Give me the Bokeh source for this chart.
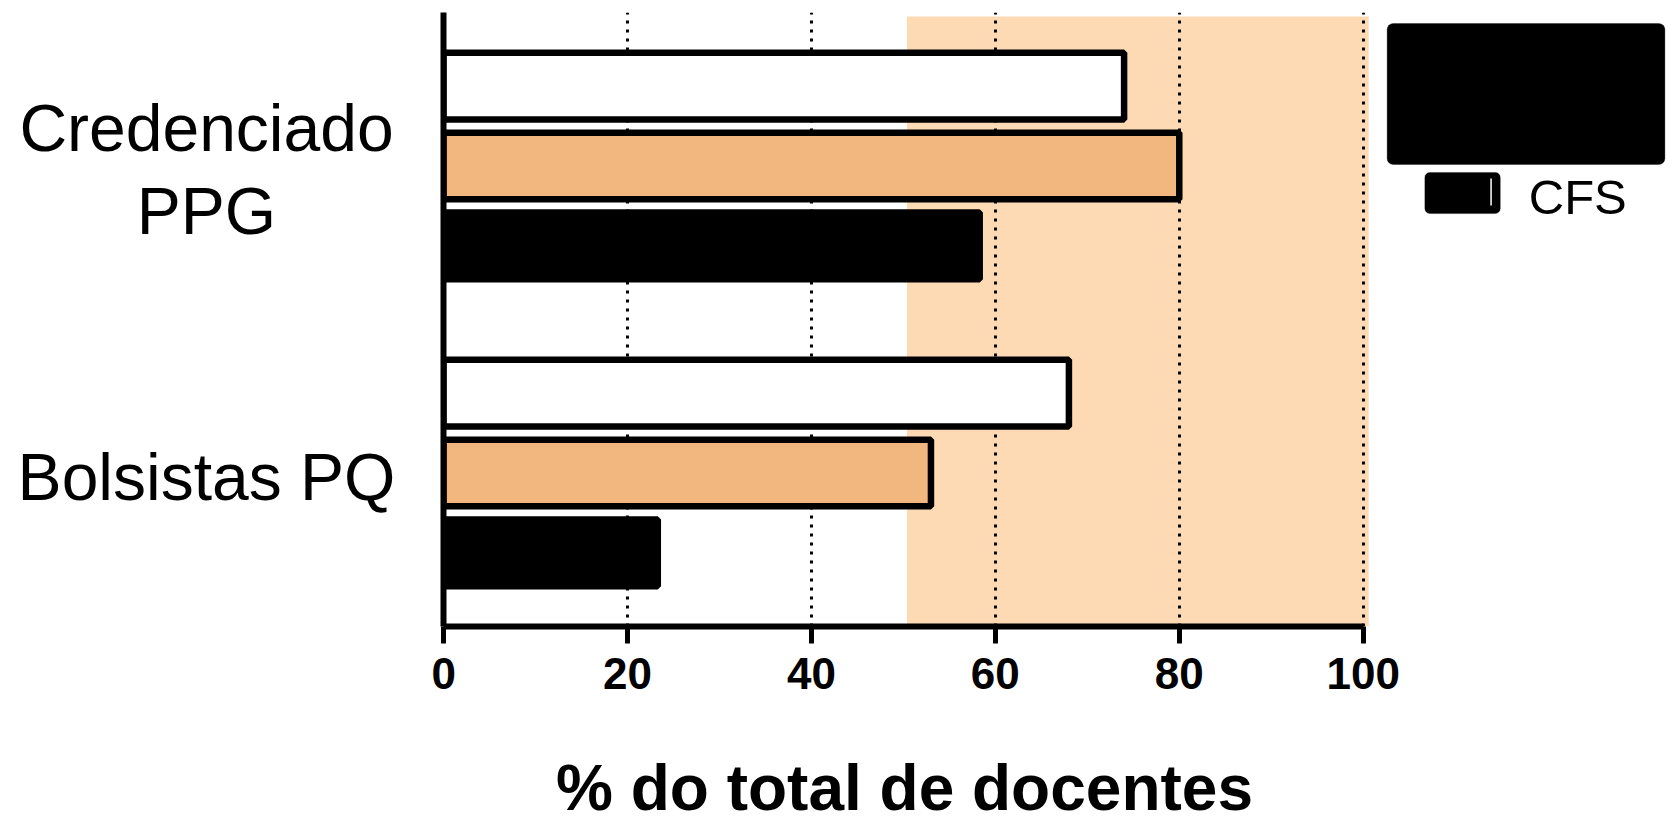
from bokeh.plotting import figure
from bokeh.layouts import row, column
from bokeh.models import Range1d, FixedTicker, BoxAnnotation, Label
from bokeh.core.properties import value
from bokeh.embed import file_html
from bokeh.resources import INLINE

# ---- data ----
categories = ["Credenciado\nPPG", "Bolsistas PQ"]
category_pos = [2, 1]
series_white = [74.0, 68.0]
series_orange = [80.0, 53.0]
series_cfs = [58.3, 23.3]
x_ticks = [0, 20, 40, 60, 80, 100]
grid_ticks = [20, 40, 60, 80, 100]
shade_range = [50.4, 100.6]
x_title = "% do total de docentes"
legend_label = "CFS"

FONT = "Liberation Sans"
ORANGE = "#F1B77E"
SHADE = "#FDDAB4"

MAIN_H = 740
TOP = 12
BOTTOM = MAIN_H - 626
LEFT_W = 431

y_range = Range1d(0.5, 2.5)

# ---- category label panel ----
lab = figure(width=LEFT_W, height=MAIN_H, output_backend="svg", toolbar_location=None,
             x_range=Range1d(0, 1), y_range=y_range,
             min_border_left=0, min_border_right=0, min_border_top=TOP, min_border_bottom=BOTTOM)
lab.axis.visible = False
lab.grid.visible = False
lab.outline_line_color = None
lab.text(x=[0.478] * len(categories), y=[c - 0.012 for c in category_pos], text=categories,
         text_align="center", text_baseline="middle", text_font=value(FONT),
         text_font_size="66px", text_line_height=1.12, text_color="black")

# ---- main plot ----
p = figure(width=1669 - LEFT_W, height=MAIN_H, output_backend="svg", toolbar_location=None,
           x_range=Range1d(0, 133.3), y_range=y_range,
           min_border_left=12, min_border_right=0, min_border_top=TOP, min_border_bottom=BOTTOM)
p.outline_line_color = None

# shaded region
p.add_layout(BoxAnnotation(left=shade_range[0], right=shade_range[1], top=2.487,
                           fill_color=SHADE, fill_alpha=1.0, line_color=None, level="image"))

# grid
p.ygrid.visible = False
p.xgrid.ticker = FixedTicker(ticks=grid_ticks)
p.xgrid.grid_line_color = "black"
p.xgrid.grid_line_width = 3
p.xgrid.grid_line_dash = "3 6"

# bars
off = 0.26
h = 0.217
ys_top = [c + off for c in category_pos]
ys_mid = [c for c in category_pos]
ys_bot = [c - off for c in category_pos]
p.hbar(y=ys_top, left=0, right=series_white, height=h, fill_color="white",
       line_color="black", line_width=6.5)
p.hbar(y=ys_mid, left=0, right=series_orange, height=h, fill_color=ORANGE,
       line_color="black", line_width=6.5)
p.hbar(y=ys_bot, left=0, right=series_cfs, height=h, fill_color="black",
       line_color="black", line_width=6.5)

# axes
xa = p.xaxis[0]
xa.ticker = FixedTicker(ticks=x_ticks)
xa.bounds = (0, 100)
xa.axis_line_width = 6
xa.major_tick_line_width = 5
xa.major_tick_out = 17
xa.major_tick_in = 0
xa.minor_tick_line_color = None
xa.major_label_text_font = FONT
xa.major_label_text_font_style = "bold"
xa.major_label_text_font_size = "44px"
xa.major_label_text_color = "black"
xa.major_label_standoff = 14

ya = p.yaxis[0]
ya.ticker = FixedTicker(ticks=[])
ya.axis_line_width = 6
ya.major_tick_line_color = None
ya.minor_tick_line_color = None
ya.major_label_text_color = None
ya.major_label_standoff = 0

# legend (as drawn in the reference)
p.add_layout(BoxAnnotation(left=102.6, right=132.8, top=2.464, bottom=2.005,
                           fill_color="black", fill_alpha=1.0, line_color="black",
                           border_radius=6))
p.add_layout(BoxAnnotation(left=106.7, right=114.9, top=1.979, bottom=1.845,
                           fill_color="black", fill_alpha=1.0, line_color="black",
                           border_radius=5))
p.segment(x0=[113.9], y0=[1.871], x1=[113.9], y1=[1.959], line_color="white",
          line_width=1.5, level="overlay")
p.add_layout(Label(x=118.0, y=1.898, text=legend_label, text_align="left",
                   text_baseline="alphabetic", text_font=FONT, text_font_size="49px",
                   text_color="black"))

# ---- x-axis title strip, centred under the 0-100 axis ----
TITLE_H = 824 - MAIN_H
tt = figure(width=1669, height=TITLE_H, output_backend="svg", toolbar_location=None,
            x_range=Range1d(0, 1669), y_range=Range1d(0, TITLE_H),
            min_border_left=0, min_border_right=0, min_border_top=0, min_border_bottom=0)
tt.axis.visible = False
tt.grid.visible = False
tt.outline_line_color = None
tt.text(x=[904], y=[37], text=[x_title], text_align="center", text_baseline="alphabetic",
        text_font=value(FONT), text_font_style="bold", text_font_size="64px",
        text_color="black")

layout = column(row(lab, p, spacing=0), tt, spacing=0)
open("out.html", "w").write(file_html(layout, INLINE))
